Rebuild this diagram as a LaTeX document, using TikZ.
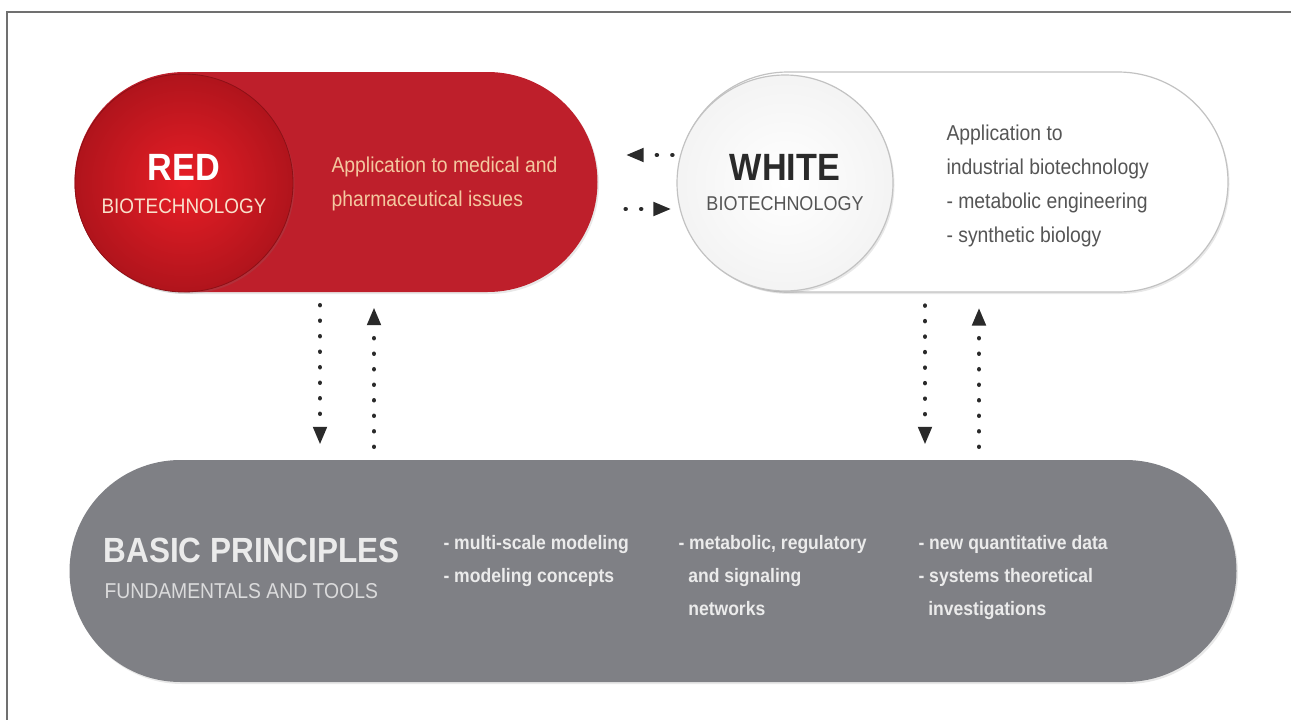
\documentclass[tikz,border=0pt]{standalone}
\usepackage{fontspec}
\setmainfont{Liberation Sans}[FakeStretch=0.9]
\usetikzlibrary{arrows.meta,positioning,shapes.misc,shadows}
\definecolor{pillred}{HTML}{BE1F2B}
\definecolor{ballin}{HTML}{E81E26}
\definecolor{ballout}{HTML}{B0141C}
\definecolor{peach}{HTML}{F4C8A0}
\definecolor{pillgray}{HTML}{7F8085}
\definecolor{graytext}{HTML}{EBEBEB}
\definecolor{rimgray}{HTML}{C2C2C2}
\definecolor{darkink}{HTML}{2A2A2A}
\definecolor{midink}{HTML}{555555}
\definecolor{framegray}{HTML}{707070}
\tikzset{
  pill/.style={rounded rectangle,inner sep=0pt,minimum height=220pt},
  ball/.style={circle,inner sep=0pt,minimum size=218pt},
  softshadow/.style={drop shadow={opacity=0.18,shadow xshift=1.5pt,
                     shadow yshift=-2pt}},
  headtext/.style={font=\bfseries\fontsize{38pt}{40pt}\selectfont},
  subtext/.style={font=\fontsize{21pt}{24pt}\selectfont},
  bodytext/.style={align=left,anchor=west,
                   font=\fontsize{21.5pt}{34pt}\selectfont},
  listtext/.style={align=left,anchor=north west,text=graytext,
                   font=\bfseries\fontsize{19.5pt}{33pt}\selectfont},
  dotarr/.style={-{Triangle[length=18pt,width=13pt]},draw=darkink,
                 line width=4.5pt,line cap=round,
                 dash pattern=on 0.01pt off 15.5pt}
}
\begin{document}
\begin{tikzpicture}[x=1pt,y=-1pt]
  \path[use as bounding box] (0,0) rectangle (1291,720);
  \draw[framegray,line width=1.3pt] (7,720) -- (7,12) -- (1291,12);

  % red biotechnology
  \node[pill,fill=pillred,minimum width=523pt,softshadow] (redpill)
    at (336,182) {};
  \node[ball,inner color=ballin,outer color=ballout,draw=ballout!80!black,
    line width=0.8pt,softshadow] (redball) at (184,183) {};
  \node[headtext,text=white] (redname) at (184,167) {RED};
  \node[subtext,text=peach!55!white] at (184,206) {BIOTECHNOLOGY};
  \node[bodytext,text=peach] (redinfo) at (328,184)
    {Application to medical and\\pharmaceutical issues};

  % white biotechnology
  \node[pill,fill=white,draw=rimgray,line width=1.2pt,minimum width=550pt,
    softshadow] (whitepill) at (953,182) {};
  \node[ball,minimum size=216pt,inner color=white,outer color=gray!9,
    draw=rimgray,line width=1.2pt,softshadow] (whiteball) at (785,183) {};
  \node[headtext,text=darkink] (whitename) at (785,167) {WHITE};
  \node[subtext,font=\fontsize{20pt}{24pt}\selectfont,text=midink]
    at (785,204) {BIOTECHNOLOGY};
  \node[bodytext,text=midink] (whiteinfo) at (943,186)
    {Application to\\industrial biotechnology\\- metabolic engineering\\
     - synthetic biology};

  % basic principles
  \node[pill,fill=pillgray,minimum width=1167pt,minimum height=222pt,
    softshadow] (basic) at (653,571) {};
  \node[anchor=west,text=graytext,
    font=\bfseries\fontsize{35pt}{38pt}\selectfont] (basicname)
    at (100,550) {BASIC PRINCIPLES};
  \node[anchor=west,text=graytext!85!pillgray,
    font=\fontsize{21.5pt}{24pt}\selectfont] at (101,591)
    {FUNDAMENTALS AND TOOLS};
  \node[listtext] (colA) at (440,532)
    {- multi-scale modeling\\- modeling concepts};
  \node[listtext] (colB) at (675,532)
    {- metabolic, regulatory\\\ \ and signaling\\\ \ networks};
  \node[listtext] (colC) at (915,532)
    {- new quantitative data\\- systems theoretical\\\ \ investigations};

  % connectors
  \draw[dotarr,shorten <=5pt,shorten >=28pt]
    (whitepill.west |- 0,155) -- (redpill.east |- 0,155);
  \draw[dotarr,shorten <=28pt,shorten >=6pt]
    (redpill.east |- 0,209) -- (whitepill.west |- 0,209);
  \draw[dotarr,shorten <=13pt,shorten >=15pt]
    (redpill.south -| 320,0) -- (basic.north -| 320,0);
  \draw[dotarr,shorten <=13pt,shorten >=15pt]
    (basic.north -| 374,0) -- (redpill.south -| 374,0);
  \draw[dotarr,shorten <=13pt,shorten >=15pt]
    (whitepill.south -| 925,0) -- (basic.north -| 925,0);
  \draw[dotarr,shorten <=13pt,shorten >=15pt]
    (basic.north -| 979,0) -- (whitepill.south -| 979,0);
\end{tikzpicture}
\end{document}
